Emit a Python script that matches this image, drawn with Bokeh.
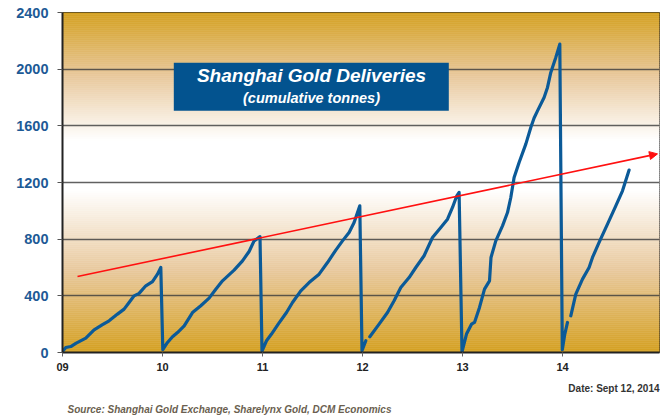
from bokeh.plotting import figure
from bokeh.models import (FixedTicker, Label, BoxAnnotation, Arrow, NormalHead,
                          ColumnDataSource, Range1d, Title)
from bokeh.embed import file_html
from bokeh.resources import INLINE
import numpy as np

# ---- data (decimal year, cumulative tonnes); None = missing observations ----
t2009 = [9.006, 9.033, 9.083, 9.133, 9.233, 9.316, 9.40, 9.466, 9.55, 9.616, 9.666, 9.716, 9.766, 9.833, 9.90, 9.95, 9.983]
v2009 = [12, 35, 42, 64, 101, 160, 196, 224, 271, 306, 353, 400, 417, 471, 501, 553, 600]
t2010 = [10.003, 10.05, 10.10, 10.15, 10.217, 10.30, 10.383, 10.466, 10.533, 10.60, 10.716, 10.80, 10.866, 10.916, 10.975]
v2010 = [20, 71, 111, 141, 188, 282, 330, 384, 447, 506, 581, 647, 713, 788, 818]
t2011 = [10.995, 11.04, 11.09, 11.157, 11.24, 11.30, 11.383, 11.466, 11.566, 11.65, 11.733, 11.80, 11.866, 11.916, 11.973]
v2011 = [10, 83, 130, 200, 282, 353, 435, 494, 553, 635, 723, 788, 847, 918, 1035]
t2012 = [11.995, 12.033, 12.05, 12.073, 12.166, 12.25, 12.316, 12.383, 12.466, 12.533, 12.616, 12.70, 12.783, 12.85, 12.90, 12.943, 12.966]
v2012 = [12, 83, None, 111, 200, 282, 365, 459, 529, 600, 683, 812, 882, 941, 1024, 1106, 1130]
t2013 = [12.995, 13.04, 13.09, 13.12, 13.17, 13.22, 13.27, 13.285, 13.333, 13.40, 13.45, 13.483, 13.516, 13.566, 13.633, 13.683, 13.716, 13.75, 13.816, 13.85, 13.883, 13.933, 13.973]
v2013 = [5, 130, 200, 212, 318, 447, 506, 671, 788, 894, 988, 1094, 1235, 1341, 1471, 1588, 1655, 1706, 1800, 1871, 1977, 2083, 2177]
t2014 = [13.998, 14.023, 14.05, 14.066, 14.083, 14.133, 14.20, 14.266, 14.30, 14.366, 14.45, 14.533, 14.60, 14.666]
v2014 = [20, 130, 212, None, 259, 412, 518, 600, 671, 777, 906, 1035, 1141, 1288]

trend_x = [9.15, 14.95]
trend_y = [536, 1402]

year_ticks = [9, 10, 11, 12, 13, 14]
year_labels = ["09", "10", "11", "12", "13", "14"]
value_ticks = [0, 400, 800, 1200, 1600, 2000, 2400]

title_text = "Shanghai Gold Deliveries"
subtitle_text = "(cumulative tonnes)"
source_text = "Source: Shanghai Gold Exchange, Sharelynx Gold, DCM Economics"
date_text = "Date: Sept 12, 2014"

# ---- figure ----
X0, X1 = 9.0, 14.97
Y0, Y1 = 0, 2400
p = figure(width=660, height=416, output_backend="svg", toolbar_location=None,
           x_range=Range1d(X0, X1), y_range=Range1d(Y0, Y1),
           min_border_left=62, min_border_right=1, min_border_top=12, min_border_bottom=64)
p.background_fill_color = "white"
p.border_fill_color = "white"
p.outline_line_color = "#222222"
p.outline_line_width = 1

# gradient background gold - white - gold
gold = np.array([212, 160, 32], dtype=float)
beige = np.array([232, 200, 156], dtype=float)
white = np.array([255, 255, 255], dtype=float)
n = 170
edges = np.linspace(Y0, Y1, n + 1)
mids = (edges[:-1] + edges[1:]) / 2
cols = []
for m in mids:
    if m >= 1500:
        f = (m - 1500) / (2400 - 1500)
    elif m <= 1150:
        f = (1150 - m) / 1150
    else:
        f = 0.0
    f = min(max(f, 0.0), 1.0)
    if f <= 0.5:
        c = white + (beige - white) * (f / 0.5)
    else:
        c = beige + (gold - beige) * ((f - 0.5) / 0.5)
    cols.append("#%02x%02x%02x" % tuple(int(round(v)) for v in c))
bg = p.quad(left=X0, right=X1, bottom=edges[:-1], top=edges[1:], fill_color=cols, line_color=cols, line_width=0.5)
bg.level = "image"

# grid
p.xgrid.visible = False
p.ygrid.ticker = FixedTicker(ticks=value_ticks)
p.ygrid.grid_line_color = "#3a3a3a"
p.ygrid.grid_line_alpha = 0.8
p.ygrid.grid_line_width = 1.3

# axes
p.xaxis.ticker = FixedTicker(ticks=year_ticks)
p.xaxis.major_label_overrides = {t: l for t, l in zip(year_ticks, year_labels)}
p.xaxis.major_label_text_font = "Liberation Sans"
p.xaxis.major_label_text_font_style = "bold"
p.xaxis.major_label_text_font_size = "11px"
p.xaxis.major_label_text_color = "#222222"
p.xaxis.axis_line_width = 2
p.xaxis.axis_line_color = "#222222"
p.xaxis.major_tick_out = 4
p.xaxis.major_tick_in = 0
p.xaxis.major_tick_line_color = "#666666"
p.xaxis.minor_tick_line_color = None
p.xaxis.major_label_standoff = 6

p.yaxis.ticker = FixedTicker(ticks=value_ticks)
p.yaxis.major_label_text_font = "Liberation Sans"
p.yaxis.major_label_text_font_style = "bold"
p.yaxis.major_label_text_font_size = "14.5px"
p.yaxis.major_label_text_color = "#1D5A96"
p.yaxis.axis_line_width = 2
p.yaxis.axis_line_color = "#222222"
p.yaxis.major_tick_out = 5
p.yaxis.major_tick_in = 0
p.yaxis.major_tick_line_color = "#555555"
p.yaxis.minor_tick_line_color = None
p.yaxis.major_label_standoff = 9

# data line
xs, ys = [], []
for t, v in [(t2009, v2009), (t2010, v2010), (t2011, v2011), (t2012, v2012), (t2013, v2013), (t2014, v2014)]:
    for a, b in zip(t, v):
        xs.append(a)
        ys.append(np.nan if b is None else b)
src = ColumnDataSource(dict(x=xs, y=ys))
p.line("x", "y", source=src, line_color="#0B5A98", line_width=3.2, line_join="round", line_cap="round")

# trend arrow
p.add_layout(Arrow(x_start=trend_x[0], y_start=trend_y[0], x_end=trend_x[1], y_end=trend_y[1],
                   line_color="#FF1010", line_width=1.6,
                   end=NormalHead(size=8, fill_color="#FF1010", line_color="#FF1010", line_width=1)))

# title box
p.add_layout(BoxAnnotation(left=10.113, right=12.863, bottom=1706, top=2045,
                           fill_color="#03538F", fill_alpha=1, line_color=None, level="annotation"))
p.add_layout(Label(x=11.49, y=1955, text=title_text, text_font="Liberation Sans",
                   text_font_style="bold italic", text_font_size="19px", text_color="white",
                   text_align="center", text_baseline="middle"))
p.add_layout(Label(x=11.49, y=1798, text=subtitle_text, text_font="Liberation Sans",
                   text_font_style="bold italic", text_font_size="14.5px", text_color="white",
                   text_align="center", text_baseline="middle"))

# footer texts (titles placed below the x axis)
p.add_layout(Title(text=date_text, align="right", text_font="Liberation Sans",
                   text_font_style="bold", text_font_size="10px", text_color="#333333",
                   standoff=15, offset=0), "below")
p.add_layout(Title(text=source_text, align="left", text_font="Liberation Sans",
                   text_font_style="bold italic", text_font_size="10px", text_color="#6B5F50",
                   standoff=1, offset=5), "below")

open("out.html", "w").write(file_html(p, INLINE))
